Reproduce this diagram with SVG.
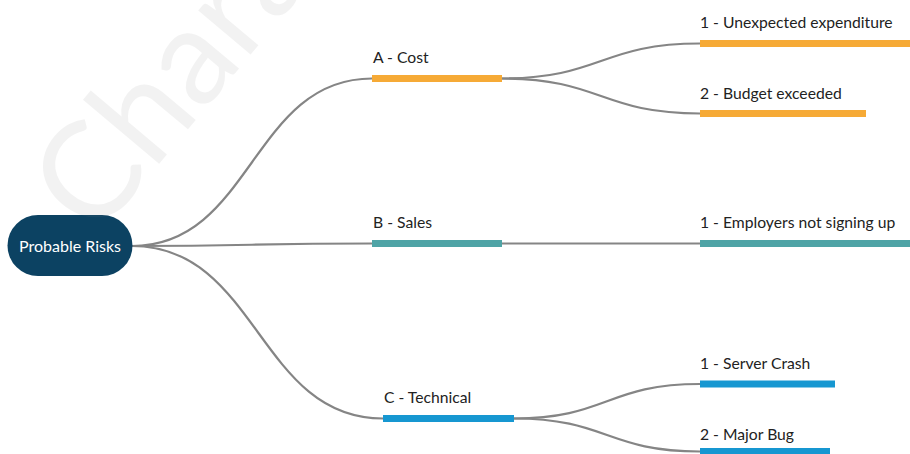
<svg xmlns="http://www.w3.org/2000/svg" width="910" height="454" viewBox="0 0 910 454">
  <style>
    .lbl { font-family: Lato, "Open Sans", "Liberation Sans", sans-serif; font-size: 15.7px; fill: #222; }
    .root-txt { font-family: Lato, "Open Sans", "Liberation Sans", sans-serif; font-size: 16px; fill: #fff; text-anchor: middle; }
    .edge { fill: none; stroke: #858585; stroke-width: 2.2; }
    .cost { fill: #f6aa36; }
    .sales { fill: #4fa4a6; }
    .tech { fill: #1697d1; }
    .wm { font-family: Lato, "Open Sans", "Liberation Sans", sans-serif; font-size: 135px; fill: #808080; fill-opacity: 0.1; }
  </style>
  <rect width="910" height="454" fill="#fff"/>

  <!-- connectors -->
  <g id="connectors">
    <path class="edge" d="M132,246 C252,246 252,78.5 372,78.5"/>
    <path class="edge" d="M132,246 C252,246 252,243.5 372,243.5"/>
    <path class="edge" d="M132,246 C258,246 258,418.5 383,418.5"/>
    <path class="edge" d="M502,78.5 C601,78.5 601,43.5 700,43.5"/>
    <path class="edge" d="M502,78.5 C601,78.5 601,113.5 700,113.5"/>
    <path class="edge" d="M502,243.5 L700,243.5"/>
    <path class="edge" d="M514,418.5 C607,418.5 607,384 700,384"/>
    <path class="edge" d="M514,418.5 C607,418.5 607,451.5 700,451.5"/>
  </g>

  <g id="root">
    <rect x="7.5" y="215" width="125" height="61" rx="30.5" fill="#0c4262"/>
    <text class="root-txt" x="70" y="251.5">Probable Risks</text>
  </g>

  <g id="a-cost">
    <text class="lbl" x="373" y="63">A - Cost</text>
    <rect class="cost" x="372" y="75" width="130" height="7"/>
  </g>
  <g id="a1">
    <text class="lbl" x="700" y="27.5">1 - Unexpected expenditure</text>
    <rect class="cost" x="700" y="40" width="215" height="7"/>
  </g>
  <g id="a2">
    <text class="lbl" x="700" y="98.5">2 - Budget exceeded</text>
    <rect class="cost" x="700" y="110" width="166" height="7"/>
  </g>

  <g id="b-sales">
    <text class="lbl" x="373" y="227.5">B - Sales</text>
    <rect class="sales" x="372" y="240" width="130" height="7"/>
  </g>
  <g id="b1">
    <text class="lbl" x="700" y="228">1 - Employers not signing up</text>
    <rect class="sales" x="700" y="240" width="215" height="7"/>
  </g>

  <g id="c-technical">
    <text class="lbl" x="384" y="403">C - Technical</text>
    <rect class="tech" x="383" y="415" width="131" height="7"/>
  </g>
  <g id="c1">
    <text class="lbl" x="700" y="368.5">1 - Server Crash</text>
    <rect class="tech" x="700" y="380.5" width="135" height="7"/>
  </g>
  <g id="c2">
    <text class="lbl" x="700" y="440">2 - Major Bug</text>
    <rect class="tech" x="700" y="448" width="130" height="7"/>
  </g>

  <!-- faint background watermark -->
  <text class="wm" transform="translate(95,240) rotate(-50)">Chara</text>
</svg>
